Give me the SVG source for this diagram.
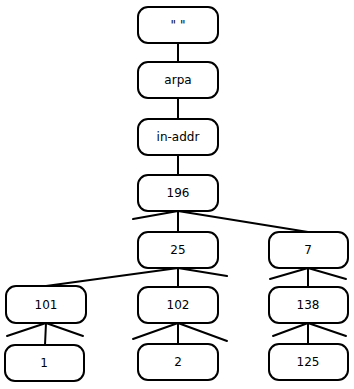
<svg xmlns="http://www.w3.org/2000/svg" width="354" height="389" viewBox="0 0 354 389">
<style>
.n rect{fill:#fff;stroke:#000;stroke-width:2}
.n text{font-family:"DejaVu Sans",Verdana,sans-serif;font-size:12px;text-anchor:middle;fill:#000}
#edges line{stroke:#000;stroke-width:2;stroke-linecap:round}
</style>
<rect width="354" height="389" fill="#fff"/>
<g id="edges">
<line x1="178" y1="43" x2="178" y2="62"/>
<line x1="178" y1="98" x2="178" y2="119"/>
<line x1="178" y1="155" x2="178" y2="175"/>
<line x1="178" y1="211" x2="178" y2="232"/>
<line x1="178" y1="211" x2="133" y2="219"/>
<line x1="178" y1="211" x2="308" y2="232"/>
<line x1="178" y1="268" x2="178" y2="287"/>
<line x1="178" y1="268" x2="46" y2="286"/>
<line x1="178" y1="268" x2="227" y2="276"/>
<line x1="308" y1="268" x2="308" y2="287"/>
<line x1="308" y1="268" x2="270" y2="279"/>
<line x1="308" y1="268" x2="346" y2="279"/>
<line x1="46" y1="323" x2="45" y2="345"/>
<line x1="46" y1="323" x2="7" y2="336"/>
<line x1="46" y1="323" x2="83" y2="336"/>
<line x1="178" y1="323" x2="178" y2="344"/>
<line x1="178" y1="323" x2="133" y2="339"/>
<line x1="178" y1="323" x2="227" y2="341"/>
<line x1="308" y1="323" x2="308" y2="344"/>
<line x1="308" y1="323" x2="273" y2="336"/>
<line x1="308" y1="323" x2="346" y2="336"/>
</g>
<g id="root" class="n"><rect x="138" y="7" width="80" height="36" rx="10"/><text x="178" y="29">" "</text></g>
<g id="arpa" class="n"><rect x="138" y="62" width="80" height="36" rx="10"/><text x="178" y="84">arpa</text></g>
<g id="in-addr" class="n"><rect x="138" y="119" width="80" height="36" rx="10"/><text x="178" y="141">in-addr</text></g>
<g id="n196" class="n"><rect x="138" y="175" width="80" height="36" rx="10"/><text x="178" y="197">196</text></g>
<g id="n25" class="n"><rect x="138" y="232" width="80" height="36" rx="10"/><text x="178" y="254">25</text></g>
<g id="n7" class="n"><rect x="269" y="232" width="79" height="36" rx="10"/><text x="308" y="254">7</text></g>
<g id="n101" class="n"><rect x="6" y="286" width="80" height="37" rx="10"/><text x="46" y="309">101</text></g>
<g id="n102" class="n"><rect x="138" y="287" width="80" height="36" rx="10"/><text x="178" y="309">102</text></g>
<g id="n138" class="n"><rect x="269" y="287" width="79" height="36" rx="10"/><text x="308" y="309">138</text></g>
<g id="n1" class="n"><rect x="5" y="345" width="79" height="36" rx="10"/><text x="44" y="367">1</text></g>
<g id="n2" class="n"><rect x="138" y="344" width="80" height="36" rx="10"/><text x="178" y="366">2</text></g>
<g id="n125" class="n"><rect x="269" y="344" width="79" height="36" rx="10"/><text x="308" y="366">125</text></g>
</svg>
